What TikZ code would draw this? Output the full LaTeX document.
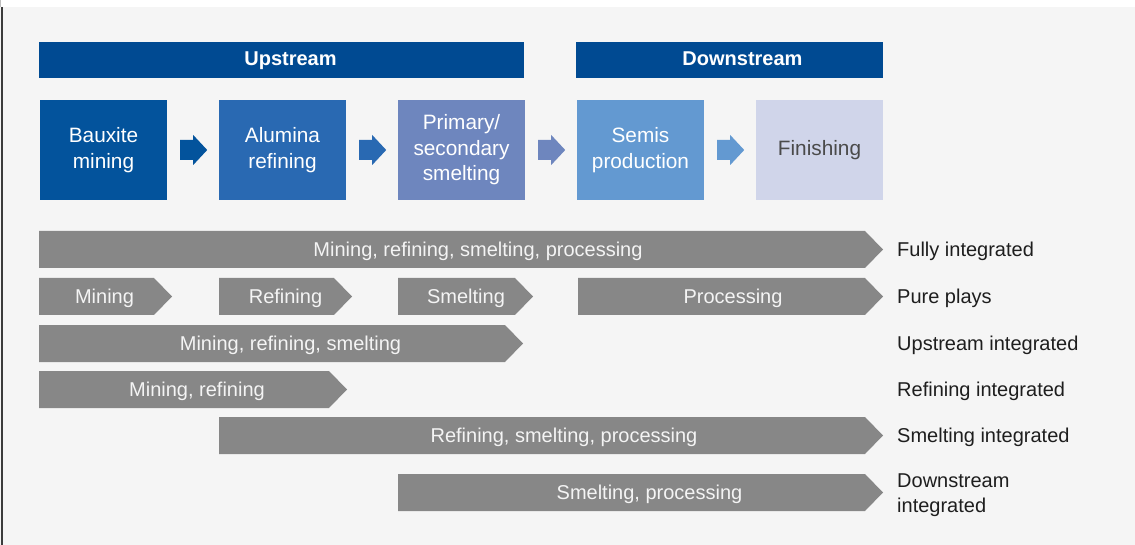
\documentclass[tikz,border=0pt]{standalone}
\usepackage{fontspec}
\setmainfont{Liberation Sans}
\usetikzlibrary{calc}

\definecolor{pagebg}{HTML}{F5F5F5}
\definecolor{edgeline}{HTML}{3C3C3C}
\definecolor{hdrblue}{HTML}{004A92}
\definecolor{stageA}{HTML}{03539C}
\definecolor{stageB}{HTML}{2969B2}
\definecolor{stageC}{HTML}{6E86BE}
\definecolor{stageD}{HTML}{6399D1}
\definecolor{stageE}{HTML}{D0D5EA}
\definecolor{bargray}{HTML}{878787}
\definecolor{bartxt}{HTML}{F4F4F4}
\definecolor{labeltxt}{HTML}{1E1E1E}
\definecolor{darktxt}{HTML}{4A4A4A}

% block arrow placed after the box named #1, filled with colour #2
\newcommand\blockarrow[2]{%
  \fill[#2] ($(#1.east)+(13,-10)$) -- ++(13,0) -- ++(0,-5) -- ++(14,15)
    -- ++(-14,15) -- ++(0,-5) -- ++(-13,0) -- cycle;}
% chevron bar: left x, top y, tip x
\newcommand\chevronbar[3]{%
  \fill[bargray] (#1,#2) -- (#3-18,#2) -- (#3,#2+18.5) -- (#3-18,#2+37)
    -- (#1,#2+37) -- cycle;}

\begin{document}
\begin{tikzpicture}[x=1pt,y=-1pt,
  basefont/.style={font=\fontsize{20}{25.5}\selectfont},
  stagebox/.style={font=\fontsize{20.8}{25.5}\selectfont, rectangle,
    minimum width=127pt, minimum height=100pt,
    inner sep=0pt, align=center, text=white},
  hdrbar/.style={rectangle, fill=hdrblue, minimum height=36pt, inner sep=0pt},
  hdrtext/.style={anchor=base, inner sep=0pt, text=white,
    font=\fontsize{20}{24}\selectfont\bfseries},
  bartext/.style={basefont, anchor=base, inner sep=0pt, text=bartxt},
  rowlabel/.style={basefont, anchor=base west, inner sep=0pt, text=labeltxt, align=left}]

% canvas
\useasboundingbox (0,0) rectangle (1135,545);
\fill[white] (0,0) rectangle (1135,545);
\fill[pagebg] (0,7) rectangle (1135,545);
\fill[edgeline] (0.6,7) rectangle (3.4,545);
\fill[black!25] (0,0) rectangle (0.8,7);

% stage headers
\node[hdrbar, minimum width=485pt] (upbar) at (281.5,60) {};
\node[hdrbar, minimum width=307pt] (downbar) at (729.5,60) {};
\node[hdrtext] (uptext) at (290.5,66) {Upstream};
\node[hdrtext] (downtext) at (742.5,66) {Downstream};

% value chain stages
\node[stagebox, fill=stageA] (bauxite) at (103.5,150) {Bauxite\\mining};
\node[stagebox, fill=stageB] (alumina) at (282.5,150) {Alumina\\refining};
\node[stagebox, fill=stageC] (smelt) at (461.5,150) {Primary/\\secondary\\smelting};
\node[stagebox, fill=stageD] (semis) at (640.5,150) {Semis\\production};
\node[stagebox, fill=stageE, text=darktxt] (finish) at (819.5,150) {Finishing};

\blockarrow{bauxite}{stageA}
\blockarrow{alumina}{stageB}
\blockarrow{smelt}{stageC}
\blockarrow{semis}{stageD}

% business model bars
\chevronbar{39}{231}{883}
\node[bartext] (fullbar) at (478,256.5) {Mining, refining, smelting, processing};

\chevronbar{39}{278}{172}
\chevronbar{219}{278}{352}
\chevronbar{398}{278}{533}
\chevronbar{578}{278}{883}
\node[bartext] (puremine) at (104.5,303.5) {Mining};
\node[bartext] (pureref) at (285.5,303.5) {Refining};
\node[bartext] (puresmelt) at (466,303.5) {Smelting};
\node[bartext] (pureproc) at (733,303.5) {Processing};

\chevronbar{39}{325}{523}
\node[bartext] (upbarT) at (290.5,350.5) {Mining, refining, smelting};

\chevronbar{39}{371}{347}
\node[bartext] (refbarT) at (197,396.5) {Mining, refining};

\chevronbar{219}{417}{883}
\node[bartext] (smeltbarT) at (564,442.5) {Refining, smelting, processing};

\chevronbar{398}{474}{883}
\node[bartext] (downbarT) at (649.5,499.5) {Smelting, processing};

% row labels
\node[rowlabel] (lfull) at (897,256.5) {Fully integrated};
\node[rowlabel] (lpure) at (897,303.5) {Pure plays};
\node[rowlabel] (lup) at (897,350.5) {Upstream integrated};
\node[rowlabel] (lref) at (897,396.5) {Refining integrated};
\node[rowlabel] (lsmelt) at (897,442) {Smelting integrated};
\node[rowlabel, anchor=west] (ldown) at (897,495.4) {Downstream\\integrated};
\end{tikzpicture}
\end{document}
